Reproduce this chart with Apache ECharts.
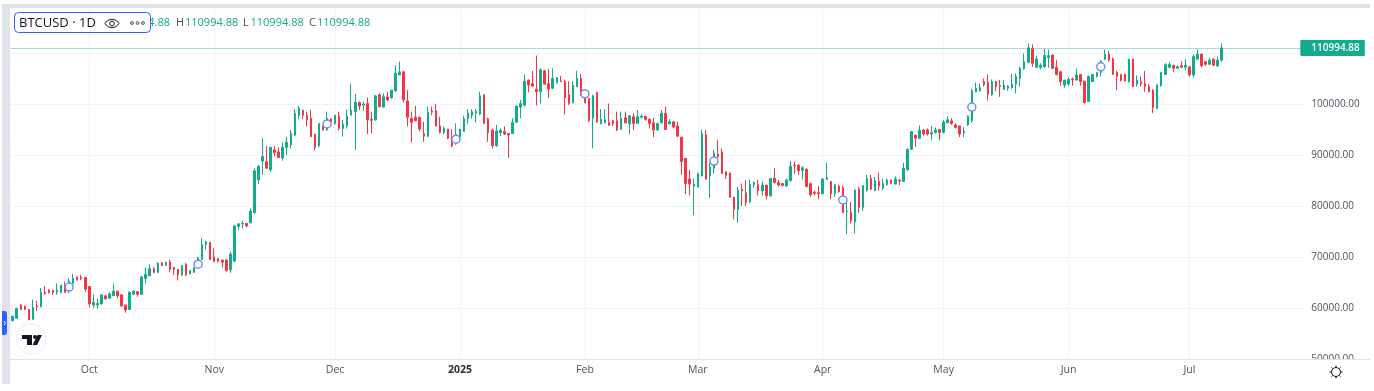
<!DOCTYPE html>
<html>
<head>
<meta charset="utf-8">
<style>html,body{margin:0;padding:0;background:#fff}#c{width:1374px;height:391px}</style>
<script src="https://cdn.jsdelivr.net/npm/echarts@6/dist/echarts.min.js"></script>
</head>
<body>
<div id="c"></div>
<script>
// Daily candles, first date 2024-09-12, values in thousands of USD, ten per line
const firstDate = '2024-09-12';
const blankDaysAfterData = 20;
const opens = [
57.5,58.0,60.6,60.3,59.7,57.8,60.4,60.3,63.1,63.5,
63.5,63.1,63.0,64.3,63.4,64.8,66.1,66.0,66.0,64.2,
60.6,60.6,60.8,62.4,61.9,62.4,63.3,62.6,60.6,59.7,
62.7,63.2,62.7,65.8,66.3,67.7,67.0,68.8,68.4,69.0,
68.0,67.6,66.5,68.6,66.7,67.0,68.0,69.5,72.4,72.9,
70.0,69.7,69.4,69.4,67.5,69.2,76.0,76.5,76.6,76.7,
78.7,85.1,88.8,88.7,87.1,91.0,90.6,89.4,91.5,92.0,
93.9,97.8,98.8,97.8,97.2,94.1,91.8,95.6,94.9,97.1,
96.2,97.6,95.2,95.7,97.8,98.5,100.3,99.8,100.1,97.0,
96.9,101.8,99.4,101.4,101.2,102.6,105.7,106.3,100.6,97.2,
97.4,97.4,94.2,93.7,98.6,98.7,95.7,94.4,95.1,92.4,
92.5,93.6,94.6,97.1,97.8,98.2,98.0,101.8,97.1,94.9,
91.8,94.4,94.6,94.2,94.2,96.4,99.4,99.8,104.7,104.0,
102.9,102.4,106.5,104.0,103.1,104.2,104.5,104.4,101.8,100.3,
103.4,105.0,101.8,101.1,97.2,102.2,96.1,96.3,96.4,96.7,
96.7,95.0,97.3,96.1,97.5,96.2,97.4,97.6,97.0,96.3,
94.9,96.3,98.2,96.1,96.5,95.7,93.5,89.3,85.3,83.9,
83.7,85.9,94.0,85.9,87.4,90.2,90.6,86.7,86.5,81.7,
79.3,83.3,82.6,80.8,84.2,84.2,83.0,84.1,82.0,85.4,
84.6,84.4,83.9,85.0,88.0,88.0,87.0,87.2,84.4,82.7,
82.6,82.4,85.2,84.8,82.4,83.9,83.6,78.9,78.8,76.9,
83.3,79.7,83.1,85.4,83.0,84.8,83.5,84.2,85.1,84.3,
85.1,84.8,87.1,91.1,93.9,93.3,94.9,94.9,94.1,94.4,
95.0,94.4,96.3,96.7,95.9,95.7,94.4,95.9,96.7,102.4,
102.6,104.4,104.2,101.8,104.4,103.6,102.9,103.1,103.2,103.9,
105.0,106.9,108.2,110.9,107.2,107.2,107.3,109.1,109.6,107.2,
106.3,103.7,103.9,104.9,104.7,105.8,104.5,100.5,104.4,105.4,
106.2,108.8,109.8,108.9,106.2,105.8,105.8,104.4,108.8,103.9,
104.4,104.0,103.4,102.7,99.1,103.6,105.8,107.2,107.6,107.0,
107.5,107.2,107.3,105.7,108.8,109.8,108.3,107.8,108.8,107.5,
108.6];
const closes = [
58.4,59.9,59.7,59.7,57.7,60.1,60.3,63.1,62.8,63.0,
63.1,63.5,64.5,63.1,65.3,65.8,65.5,65.7,63.7,60.8,
61.1,60.9,62.6,61.8,62.8,63.3,62.4,60.4,59.6,63.1,
63.3,62.7,66.1,66.6,67.7,67.0,68.8,68.3,68.9,67.6,
67.5,66.5,68.3,66.5,67.3,67.9,69.8,72.4,73.0,69.5,
69.1,69.2,69.0,67.3,70.6,76.1,76.5,76.6,76.1,79.0,
86.9,87.8,89.7,87.4,91.5,90.5,89.5,91.5,92.5,94.2,
98.2,99.2,97.8,96.9,93.6,91.5,96.2,94.9,97.2,96.5,
97.8,95.2,96.0,97.6,98.8,100.3,99.6,100.0,96.9,96.8,
101.6,99.5,101.4,100.8,102.7,106.0,106.3,100.8,97.4,96.4,
96.7,95.1,93.7,98.4,98.4,95.7,94.4,95.2,93.3,91.8,
94.0,95.0,97.1,98.2,98.5,98.6,101.6,96.2,94.4,91.8,
94.7,94.9,94.1,93.9,96.4,99.6,100.1,104.5,103.7,103.5,
102.4,106.7,103.9,102.9,105.0,105.2,104.4,101.2,100.1,103.7,
105.0,101.8,100.2,96.7,101.6,96.5,97.0,96.9,95.8,96.2,
94.9,97.2,96.3,97.7,96.2,97.5,97.6,97.0,96.2,94.9,
96.2,98.2,95.0,96.5,95.5,93.7,88.7,84.4,84.3,84.3,
86.3,94.2,85.3,87.6,90.4,89.7,86.4,86.0,81.7,79.3,
83.1,83.0,80.7,84.2,84.6,83.0,84.1,82.0,85.4,84.6,
84.1,84.0,85.1,87.8,87.9,86.9,87.5,83.8,82.2,82.5,
82.4,85.3,85.6,82.4,84.2,82.8,78.7,79.0,77.1,83.1,
79.7,84.0,85.4,83.3,85.0,83.9,84.4,85.1,84.4,85.3,
84.9,87.4,91.1,94.6,93.3,94.9,94.1,94.1,94.4,94.9,
94.4,96.5,96.9,96.2,95.4,94.1,94.7,97.6,102.6,103.1,
103.2,103.8,101.9,104.4,103.4,103.4,103.7,103.5,103.9,105.4,
107.0,108.3,111.0,108.0,108.8,107.6,109.5,109.5,107.0,105.8,
104.4,104.7,104.8,104.7,105.7,104.4,100.3,105.4,105.8,106.2,
108.4,109.7,108.6,105.8,105.4,104.7,104.5,108.8,103.4,104.7,
103.9,103.4,102.4,99.3,103.7,106.2,107.7,107.8,107.0,107.3,
107.2,107.6,105.7,109.3,109.8,107.5,107.8,108.6,107.6,108.6,
110.99488];
const lows = [
57.4,58.0,59.6,59.6,57.6,57.7,59.4,60.1,62.6,62.9,
62.6,62.6,62.9,63.0,62.9,64.8,65.4,65.5,63.2,60.1,
60.0,59.9,60.7,61.6,61.8,62.4,61.9,60.3,59.1,59.6,
62.6,62.2,62.6,64.8,66.3,66.8,66.9,68.3,68.3,67.0,
66.5,65.4,66.3,66.2,66.6,66.9,67.9,69.4,71.5,69.4,
69.0,68.9,67.9,67.2,66.9,69.0,75.3,75.6,75.8,76.6,
78.5,84.3,86.1,87.4,86.7,89.7,89.4,88.9,90.0,91.3,
93.7,97.0,97.0,95.6,93.5,90.9,91.5,94.8,94.8,96.5,
95.9,94.8,93.6,95.2,97.8,91.0,98.8,98.7,94.1,94.3,
96.7,99.3,99.3,100.6,101.1,102.4,105.7,100.3,95.6,92.4,
96.7,94.6,92.6,93.5,97.8,95.6,94.2,94.1,93.1,91.5,
92.0,93.5,94.5,96.1,97.1,96.4,97.8,96.2,92.6,91.3,
91.6,93.7,93.9,89.4,94.1,96.3,97.2,99.5,102.3,103.5,
99.7,100.1,103.7,101.2,102.9,104.0,104.4,97.9,99.8,100.1,
103.3,101.6,100.2,96.5,91.3,96.3,96.1,96.3,95.8,95.7,
94.7,94.9,96.2,94.1,94.9,96.2,97.2,96.7,95.2,93.5,
94.8,96.2,94.9,96.1,95.2,93.6,86.1,82.3,82.1,78.2,
83.7,85.8,85.1,81.6,86.4,89.3,86.3,85.3,81.6,77.4,
76.7,80.0,80.0,80.6,83.6,82.1,82.1,81.3,81.8,84.4,
83.8,83.9,83.8,84.8,86.3,86.1,85.2,83.7,81.8,82.1,
81.3,82.3,85.1,81.3,81.8,82.6,78.7,74.5,76.6,74.6,
78.7,79.0,82.8,83.1,82.9,83.0,83.1,84.0,84.3,84.2,
84.1,84.7,86.9,91.0,91.6,93.1,93.8,93.8,92.9,94.2,
92.9,94.2,96.2,95.9,95.2,93.5,93.5,95.7,96.3,102.3,
102.4,103.4,100.7,101.6,102.5,101.4,102.7,102.6,103.0,102.1,
103.4,106.7,108.0,107.3,107.1,106.8,107.1,107.1,106.9,105.6,
103.6,103.2,103.6,103.6,104.6,103.6,100.1,100.4,104.3,105.2,
105.4,108.6,108.3,105.7,102.7,104.4,104.4,104.2,103.3,103.4,
103.4,102.4,102.3,98.2,99.0,103.4,105.7,107.0,106.3,106.9,
107.1,106.7,105.4,105.2,108.6,107.2,107.5,107.6,107.5,107.3,
108.3];
const highs = [
58.4,60.1,60.8,60.5,59.8,61.6,61.4,63.9,64.3,63.7,
63.5,64.8,64.5,65.2,65.8,66.7,66.2,66.5,66.0,64.2,
62.6,61.8,62.6,62.4,63.1,64.7,63.3,62.6,60.6,63.3,
63.5,63.3,66.3,68.0,68.6,68.0,69.0,69.0,69.1,69.5,
68.0,67.6,68.4,68.8,67.4,68.0,70.0,73.7,73.2,72.9,
71.7,69.7,69.4,69.6,71.0,76.3,76.6,77.1,76.6,79.5,
87.4,88.0,93.3,91.8,91.6,91.8,91.5,92.4,93.6,94.9,
99.0,99.6,98.8,98.5,98.8,94.1,96.2,95.8,98.5,97.1,
97.8,98.5,96.9,99.0,104.0,102.0,100.5,100.5,101.3,98.5,
101.8,102.1,102.1,102.4,102.7,107.6,108.3,106.5,102.7,98.5,
99.6,97.5,96.5,99.5,99.5,100.0,97.5,95.6,95.1,95.0,
96.2,95.2,97.7,99.0,99.0,99.0,102.4,101.8,97.3,95.2,
95.9,95.2,95.6,94.2,97.2,99.6,100.8,105.8,104.8,106.5,
109.5,107.0,106.7,106.9,107.0,105.2,105.5,104.8,104.4,104.5,
106.5,105.9,102.4,101.1,101.8,102.4,99.0,99.0,100.1,96.9,
98.5,98.5,98.5,97.7,98.2,98.8,98.0,97.6,97.2,97.2,
96.2,98.8,99.5,97.0,96.7,96.5,93.5,89.3,87.1,85.4,
86.5,95.0,94.9,88.5,91.0,93.0,91.3,86.8,86.5,81.8,
83.7,84.4,85.1,85.2,84.8,85.1,84.8,84.1,85.5,87.4,
85.1,84.4,85.4,88.8,88.7,88.2,87.8,87.4,84.6,83.0,
83.9,85.4,88.5,84.9,84.2,84.2,84.0,80.8,80.8,83.3,
83.8,84.1,86.1,86.1,85.7,86.5,85.4,85.4,85.1,85.8,
85.2,88.5,91.3,94.7,93.9,95.8,95.1,95.2,95.7,95.4,
95.0,96.9,97.6,97.2,96.2,95.7,95.5,97.8,103.0,104.2,
104.0,105.0,105.8,104.8,104.5,104.7,104.7,103.7,105.9,106.0,
107.3,109.9,111.9,111.7,109.5,108.0,110.8,110.7,109.7,108.6,
106.5,104.7,105.2,105.2,106.9,105.8,104.5,105.6,105.9,106.3,
108.6,110.7,110.4,109.1,106.5,105.8,106.0,108.8,108.8,105.6,
105.4,106.5,103.9,102.9,103.9,106.2,108.0,108.2,107.6,107.6,
108.4,108.8,107.3,109.7,110.7,109.8,108.3,109.1,108.9,109.3,
111.9];
// Event markers: candle index and price (thousands)
const eventCandles = [14,46,78,110,142,174,206,238,270];
const eventPrices = [64.1,68.6,96.1,93.1,102.0,88.8,81.2,99.4,107.3];
const lastPrice = 110994.88;
const lastPriceText = '110994.88';
const monthTickDates = ['2024-10-01','2024-11-01','2024-12-01','2025-01-01','2025-02-01','2025-03-01','2025-04-01','2025-05-01','2025-06-01','2025-07-01'];
const monthTickLabels = ['Oct','Nov','Dec','2025','Feb','Mar','Apr','May','Jun','Jul'];
const symbolTitle = 'BTCUSD · 1D';

const UP = '#12ab8b', DOWN = '#f23645', FONT = '"Open Sans", sans-serif';
const categories = [];
const d0 = new Date(firstDate + 'T00:00:00Z');
for (let i = 0; i < closes.length + blankDaysAfterData; i++) {
  categories.push(new Date(d0.getTime() + i * 86400000).toISOString().slice(0, 10));
}
const tickMap = {};
monthTickDates.forEach((d, i) => { tickMap[d] = monthTickLabels[i]; });
const candles = closes.map((c, i) => [opens[i] * 1000, c * 1000, lows[i] * 1000, highs[i] * 1000]);
const events = eventCandles.map((k, i) => [k, eventPrices[i] * 1000]);
const isTick = (idx, val) => tickMap[val] !== undefined;

const txt = (x, y, text, fill, extra) => ({
  type: 'text', z: 60, x, y,
  style: Object.assign({ text, fill, font: '11px ' + FONT, textVerticalAlign: 'middle' }, extra || {})
});
const rays = [];
for (let a = 0; a < 8; a++) {
  const t = a * Math.PI / 4, cx = 1336, cy = 372;
  rays.push({ type: 'line', z: 60, shape: { x1: cx + 5 * Math.cos(t), y1: cy + 5 * Math.sin(t), x2: cx + 6.5 * Math.cos(t), y2: cy + 6.5 * Math.sin(t) }, style: { stroke: '#131722', lineWidth: 1 } });
}
const chrome = [
  { type: 'rect', z: 1, shape: { x: 2, y: 4, width: 1368, height: 4 }, style: { fill: '#e0e3eb' } },
  { type: 'rect', z: 1, shape: { x: 2, y: 4, width: 8, height: 380 }, style: { fill: '#e0e3eb' } },
  { type: 'rect', z: 60, shape: { x: 1304, y: 360, width: 70, height: 14 }, style: { fill: '#fff' } },
  { type: 'line', z: 61, shape: { x1: 10, y1: 359.5, x2: 1370, y2: 359.5 }, style: { stroke: '#e0e3eb', lineWidth: 1 } },
  { type: 'rect', z: 61, shape: { x: 2, y: 311, width: 5, height: 24, r: [0, 3, 3, 0] }, style: { fill: '#2962ff' } },
  { type: 'polyline', z: 62, shape: { points: [[4, 321], [5.5, 323], [4, 325]] }, style: { stroke: '#fff', fill: 'none', lineWidth: 1 } },
  { type: 'circle', z: 61, shape: { cx: 31, cy: 339, r: 15 }, style: { fill: '#fff', stroke: '#eceef2', lineWidth: 1 } },
  { type: 'polygon', z: 62, shape: { points: [[22, 335], [32, 335], [32, 345], [27, 345], [27, 339], [22, 339]] }, style: { fill: '#131722' } },
  { type: 'circle', z: 62, shape: { cx: 35, cy: 337, r: 2 }, style: { fill: '#131722' } },
  { type: 'polygon', z: 62, shape: { points: [[37.5, 335], [42, 335], [37, 345], [32.5, 345]] }, style: { fill: '#131722' } },
  txt(170, 23, 'O110994.88', UP, { textAlign: 'right' }),
  txt(176, 23, 'H', '#4a4f5c'), txt(185, 23, '110994.88', UP),
  txt(243, 23, 'L', '#4a4f5c'), txt(250.5, 23, '110994.88', UP),
  txt(309, 23, 'C', '#4a4f5c'), txt(317, 23, '110994.88', UP),
  { type: 'rect', z: 70, shape: { x: 14.5, y: 12.5, width: 136, height: 20, r: 4 }, style: { fill: '#fff', stroke: '#2962ff', lineWidth: 1 } },
  { type: 'text', z: 71, x: 19, y: 23, style: { text: symbolTitle, fill: '#131722', font: '13px ' + FONT, textVerticalAlign: 'middle' } },
  { type: 'bezierCurve', z: 71, shape: { x1: 105, y1: 23.5, x2: 119, y2: 23.5, cpx1: 108, cpy1: 18, cpx2: 116, cpy2: 18 }, style: { fill: 'none', stroke: '#131722', lineWidth: 1 } },
  { type: 'bezierCurve', z: 71, shape: { x1: 105, y1: 23.5, x2: 119, y2: 23.5, cpx1: 108, cpy1: 29, cpx2: 116, cpy2: 29 }, style: { fill: 'none', stroke: '#131722', lineWidth: 1 } },
  { type: 'circle', z: 71, shape: { cx: 112, cy: 23.5, r: 2.3 }, style: { fill: 'none', stroke: '#131722', lineWidth: 1 } },
  { type: 'circle', z: 71, shape: { cx: 132, cy: 23, r: 1.4 }, style: { fill: 'none', stroke: '#4a4f5c', lineWidth: 1 } },
  { type: 'circle', z: 71, shape: { cx: 137.5, cy: 23, r: 1.4 }, style: { fill: 'none', stroke: '#4a4f5c', lineWidth: 1 } },
  { type: 'circle', z: 71, shape: { cx: 143, cy: 23, r: 1.4 }, style: { fill: 'none', stroke: '#4a4f5c', lineWidth: 1 } },
  { type: 'circle', z: 60, shape: { cx: 1336, cy: 372, r: 4.5 }, style: { fill: 'none', stroke: '#131722', lineWidth: 1 } }
].concat(rays);

const chart = echarts.init(document.getElementById('c'), null, { renderer: 'canvas' });
chart.setOption({
  animation: false,
  backgroundColor: '#fff',
  grid: { left: 10.7, right: 69.7, top: 8, bottom: 32, containLabel: false },
  xAxis: {
    type: 'category',
    data: categories,
    boundaryGap: true,
    axisLine: { show: false },
    axisTick: { show: false },
    axisLabel: {
      interval: isTick, margin: 6, color: '#4f5360', fontFamily: FONT, fontSize: 10.5,
      formatter: v => tickMap[v] === '2025' ? '{b|2025}' : (tickMap[v] || ''),
      rich: { b: { fontWeight: 'bold', color: '#2a2e39', fontFamily: FONT, fontSize: 10.5 } }
    },
    splitLine: { show: true, interval: isTick, alignWithLabel: true, lineStyle: { color: '#f0f3fa', width: 1 } }
  },
  yAxis: {
    type: 'value', position: 'right', scale: false,
    min: 50000, max: 118824, interval: 10000,
    axisLine: { show: false }, axisTick: { show: false },
    axisLabel: {
      margin: 7, color: '#4f5360', fontFamily: FONT, fontSize: 10,
      showMaxLabel: false,
      formatter: v => v % 10000 === 0 ? v.toFixed(2) : ''
    },
    splitLine: { show: true, showMaxLine: false, lineStyle: { color: '#f0f3fa', width: 1 } }
  },
  series: [
    {
      type: 'candlestick', data: candles, barWidth: 2,
      itemStyle: { color: UP, color0: DOWN, borderColor: UP, borderColor0: DOWN, borderWidth: 1 },
      markLine: {
        silent: true, symbol: 'none', animation: false,
        lineStyle: { type: 'dotted', color: 'rgba(18,171,139,0.75)', width: 1 },
        label: {
          show: true, position: 'end', distance: -4, formatter: lastPriceText,
          color: '#fff', backgroundColor: UP, fontFamily: FONT, fontSize: 10, fontWeight: 600,
          padding: [3, 5, 3, 11], borderRadius: 1
        },
        data: [{ yAxis: lastPrice }]
      }
    },
    {
      type: 'scatter', data: events, symbol: 'circle', symbolSize: 8, z: 5, silent: true,
      itemStyle: { color: '#fff', borderColor: '#6f8ff5', borderWidth: 1.5, opacity: 1 }
    }
  ],
  graphic: { elements: chrome }
});
</script>
</body>
</html>
